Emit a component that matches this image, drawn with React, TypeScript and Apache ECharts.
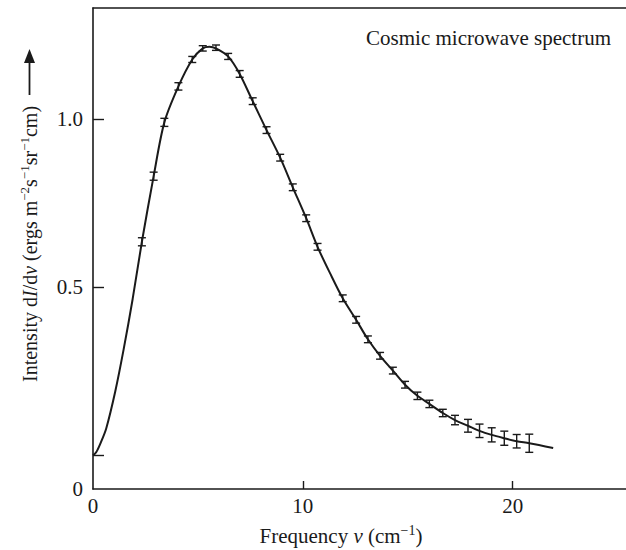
import React, { useEffect, useRef } from "react";
import * as echarts from "echarts";

// Smooth fitted curve
const curveNu = [0, 0.15, 0.35, 0.63, 1.06, 1.46, 1.89, 2.33, 2.89, 3.4, 4.07, 4.73, 5.23, 5.55, 5.86, 6.44, 6.99, 7.61, 8.27, 8.92, 9.52, 10.16, 10.7, 11.3, 11.9, 12.54, 13.1, 13.68, 14.29, 14.87, 15.46, 16.03, 16.67, 17.25, 17.87, 18.42, 19.0, 19.6, 20.19, 20.79, 21.93];
const curveI = [0.0, 0.009, 0.035, 0.08, 0.19, 0.315, 0.465, 0.635, 0.83, 0.99, 1.097, 1.177, 1.21, 1.215, 1.21, 1.186, 1.134, 1.053, 0.967, 0.885, 0.797, 0.705, 0.62, 0.541, 0.467, 0.403, 0.345, 0.296, 0.252, 0.21, 0.177, 0.153, 0.126, 0.105, 0.088, 0.073, 0.061, 0.051, 0.042, 0.036, 0.022];

// Measured points with error bars
const pointNu = [2.33, 2.89, 3.4, 4.07, 4.73, 5.23, 5.86, 6.44, 6.99, 7.61, 8.27, 8.92, 9.52, 10.16, 10.7, 11.9, 12.54, 13.1, 13.68, 14.29, 14.87, 15.46, 16.03, 16.67, 17.25, 17.87, 18.42, 19.0, 19.6, 20.19, 20.79];
const pointI = [0.635, 0.83, 0.99, 1.097, 1.177, 1.21, 1.212, 1.186, 1.134, 1.053, 0.967, 0.885, 0.797, 0.705, 0.62, 0.467, 0.403, 0.345, 0.296, 0.252, 0.21, 0.177, 0.153, 0.126, 0.105, 0.088, 0.073, 0.061, 0.051, 0.042, 0.036];
const pointErr = [0.012, 0.012, 0.012, 0.011, 0.009, 0.008, 0.008, 0.009, 0.01, 0.01, 0.01, 0.01, 0.01, 0.01, 0.01, 0.01, 0.01, 0.01, 0.01, 0.01, 0.01, 0.011, 0.011, 0.011, 0.014, 0.019, 0.02, 0.021, 0.021, 0.02, 0.027];

const xTickValues = [10, 20];
const xLabelValues = [0, 10, 20];
const yTickValues = [0, 0.5, 1.0];
const yLabelValues = [-0.1, 0.5, 1.0];
const yLabelTexts = ["0", "0.5", "1.0"];

const FONT = "'Liberation Serif', 'Times New Roman', serif";
const INK = "#1a1a1a";

export default function App() {
  const ref = useRef<HTMLDivElement>(null);

  useEffect(() => {
    if (!ref.current) return;
    const chart = echarts.init(ref.current, null, { renderer: "svg" });
    const barStyle = { stroke: INK, lineWidth: 1.4 };
    chart.setOption({
      animation: false,
      backgroundColor: "#ffffff",
      grid: { left: 93, right: 0, top: 8, bottom: 61 },
      xAxis: [
        {
          type: "value",
          min: 0,
          max: 25.4,
          axisLine: { show: true, onZero: false, lineStyle: { color: INK, width: 1.6 } },
          axisTick: { show: true, inside: true, length: 8, customValues: xTickValues, lineStyle: { color: INK, width: 1.4 } },
          axisLabel: {
            customValues: xLabelValues,
            margin: 6,
            fontFamily: FONT,
            fontSize: 21,
            color: INK,
            formatter: (v: number) => String(Math.round(v)),
          },
          splitLine: { show: false },
        },
        {
          type: "value",
          position: "top",
          min: 0,
          max: 25.4,
          axisLine: { show: true, onZero: false, lineStyle: { color: INK, width: 1.6 } },
          axisTick: { show: false },
          axisLabel: { show: false },
          splitLine: { show: false },
        },
      ],
      yAxis: {
        type: "value",
        min: -0.1,
        max: 1.33,
        axisLine: { show: true, onZero: false, lineStyle: { color: INK, width: 1.6 } },
        axisTick: { show: true, inside: true, length: 11, customValues: yTickValues, lineStyle: { color: INK, width: 1.4 } },
        axisLabel: {
          customValues: yLabelValues,
          margin: 10,
          fontFamily: FONT,
          fontSize: 21,
          color: INK,
          formatter: (v: number) => {
            let best = 0;
            yLabelValues.forEach((lv, i) => {
              if (Math.abs(lv - v) < Math.abs(yLabelValues[best] - v)) best = i;
            });
            return yLabelTexts[best];
          },
        },
        splitLine: { show: false },
      },
      series: [
        {
          type: "line",
          data: curveNu.map((n, i) => [n, curveI[i]]),
          smooth: 0.3,
          showSymbol: false,
          lineStyle: { color: INK, width: 2 },
          z: 2,
        },
        {
          type: "custom",
          data: pointNu.map((n, i) => [n, pointI[i], pointErr[i]]),
          encode: { x: 0, y: 1 },
          z: 3,
          renderItem: (params: any, api: any) => {
            const x = api.value(0);
            const y = api.value(1);
            const e = api.value(2);
            const lo = api.coord([x, y - e]);
            const hi = api.coord([x, y + e]);
            const w = 4;
            return {
              type: "group",
              children: [
                { type: "line", shape: { x1: lo[0], y1: lo[1], x2: hi[0], y2: hi[1] }, style: barStyle },
                { type: "line", shape: { x1: lo[0] - w, y1: lo[1], x2: lo[0] + w, y2: lo[1] }, style: barStyle },
                { type: "line", shape: { x1: hi[0] - w, y1: hi[1], x2: hi[0] + w, y2: hi[1] }, style: barStyle },
              ],
            };
          },
        },
      ],
      graphic: [
        {
          type: "text",
          x: 611,
          y: 38,
          style: {
            text: "Cosmic microwave spectrum",
            fontFamily: FONT,
            fontSize: 21,
            fill: INK,
            align: "right",
            verticalAlign: "middle",
          },
        },
        {
          type: "text",
          x: 341,
          y: 536,
          style: {
            text: "Frequency {i|ν} (cm{sup|−1})",
            fontFamily: FONT,
            fontSize: 21,
            lineHeight: 26,
            fill: INK,
            align: "center",
            verticalAlign: "middle",
            rich: {
              i: { fontFamily: FONT, fontSize: 21, fontStyle: "italic", lineHeight: 26, fill: INK },
              sup: { fontFamily: FONT, fontSize: 14, lineHeight: 14, verticalAlign: "top", fill: INK },
            },
          },
        },
        {
          type: "text",
          x: 29.5,
          y: 382,
          rotation: Math.PI / 2,
          style: {
            text: "Intensity d{i|I}/d{i|ν} (ergs m{sup|−2}s{sup|−1}sr{sup|−1}cm)",
            fontFamily: FONT,
            fontSize: 20,
            lineHeight: 24,
            fill: INK,
            align: "left",
            verticalAlign: "middle",
            rich: {
              i: { fontFamily: FONT, fontSize: 20, fontStyle: "italic", lineHeight: 24, fill: INK },
              sup: { fontFamily: FONT, fontSize: 13, lineHeight: 13, verticalAlign: "top", fill: INK },
            },
          },
        },
        {
          type: "line",
          shape: { x1: 29.5, y1: 95, x2: 29.5, y2: 60 },
          style: { stroke: INK, lineWidth: 1.8 },
        },
        {
          type: "polygon",
          shape: { points: [[29.5, 49], [24, 63], [35, 63]] },
          style: { fill: INK },
        },
      ],
    });
    return () => chart.dispose();
  }, []);

  return (
    <div
      ref={ref}
      style={{ position: "fixed", left: 0, top: 0, width: 626, height: 550, background: "#fff" }}
    />
  );
}
